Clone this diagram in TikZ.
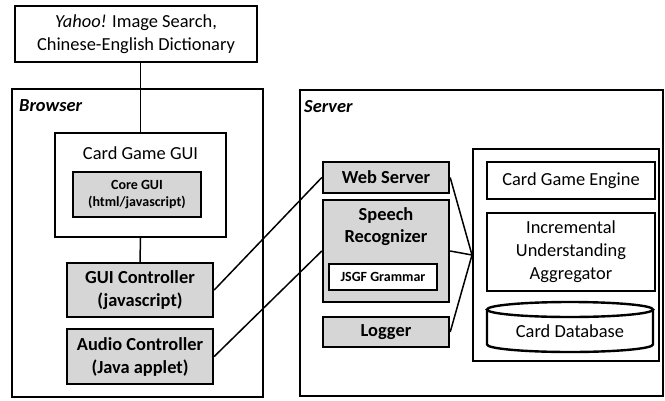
\documentclass[tikz,border=0pt]{standalone}
\usepackage{fontspec}
\setmainfont{Carlito}
\begin{document}
\begin{tikzpicture}[x=1pt, y=-1pt,
    every node/.style={font=\fontsize{18.4}{23}\selectfont, align=center, inner sep=0pt},
    outerbox/.style={draw, line width=2pt},
    plainbox/.style={draw, line width=2.4pt, fill=white},
    graybox/.style={draw, line width=2.4pt, fill=gray!32, font=\fontsize{18.4}{23}\selectfont\bfseries},
    smallbox/.style={font=\fontsize{14}{17}\selectfont\bfseries},
    link/.style={line width=1.5pt}]
  \useasboundingbox (0,0) rectangle (665,400);

  % Outside services
  \node[outerbox, minimum width=242pt, minimum height=56pt] (yahoo) at (136,34)
    {\textit{Yahoo!} Image Search,\\Chinese-English Dictionary};

  % Browser side
  \node[outerbox, minimum width=251pt, minimum height=308pt] (browser) at (137.5,243) {};
  \node[anchor=west, font=\fontsize{18.4}{23}\selectfont\bfseries\itshape] (browserlbl) at (19,106) {Browser};
  \node[outerbox, minimum width=171pt, minimum height=104pt] (cardgui) at (140.5,185) {};
  \node (cardguilbl) at (140.5,153) {Card Game GUI};
  \node[graybox, smallbox, minimum width=128pt, minimum height=45pt] (coregui) at (137,194.5)
    {Core GUI\\(html/javascript)};
  \node[graybox, minimum width=146pt, minimum height=54pt] (guictrl) at (140,290)
    {GUI Controller\\(javascript)};
  \node[graybox, minimum width=146pt, minimum height=55pt] (audioctrl) at (140,356.5)
    {Audio Controller\\(Java applet)};

  % Server side
  \node[outerbox, minimum width=363pt, minimum height=306pt] (server) at (481.5,243) {};
  \node[anchor=west, font=\fontsize{18.4}{23}\selectfont\bfseries\itshape] (serverlbl) at (304,107) {Server};
  \node[graybox, minimum width=126pt, minimum height=31pt] (websrv) at (386,177.5) {Web Server};
  \node[graybox, minimum width=126pt, minimum height=102pt] (speech) at (386,251) {};
  \node[font=\fontsize{18.4}{22}\selectfont\bfseries] (speechlbl) at (386,227) {Speech\\Recognizer};
  \node[plainbox, smallbox, minimum width=108pt, minimum height=26pt] (jsgf) at (383,277) {JSGF Grammar};
  \node[graybox, minimum width=126pt, minimum height=30pt] (logger) at (386,332) {Logger};

  % Game core
  \node[outerbox, minimum width=186pt, minimum height=212pt] (core) at (566,255) {};
  \node[plainbox, minimum width=168pt, minimum height=37pt] (engine) at (571,180.5) {Card Game Engine};
  \node[plainbox, minimum width=168pt, minimum height=78pt] (iua) at (571,252)
    {Incremental\\Understanding\\Aggregator};

  % Card database (cylinder)
  \draw[line width=2.4pt, fill=white] (487,309.5) -- (487,344.5)
    arc[start angle=180, end angle=0, x radius=83, y radius=7.5] -- (653,309.5);
  \draw[line width=2.4pt, fill=white] (570,309.5) ellipse[x radius=83, y radius=7.5];
  \node (carddb) at (570,331) {Card Database};

  % Connectors
  \draw[link] (cardgui.north |- yahoo.south) -- (cardgui.north);
  \draw[link] (cardgui.south) -- (guictrl.north);
  \draw[link] (guictrl.east) -- (websrv.west);
  \draw[link] (audioctrl.east) -- (speech.west);
  \foreach \src in {websrv, speech, logger}
    \draw[link] (\src.east) -- (core.west);
\end{tikzpicture}
\end{document}
